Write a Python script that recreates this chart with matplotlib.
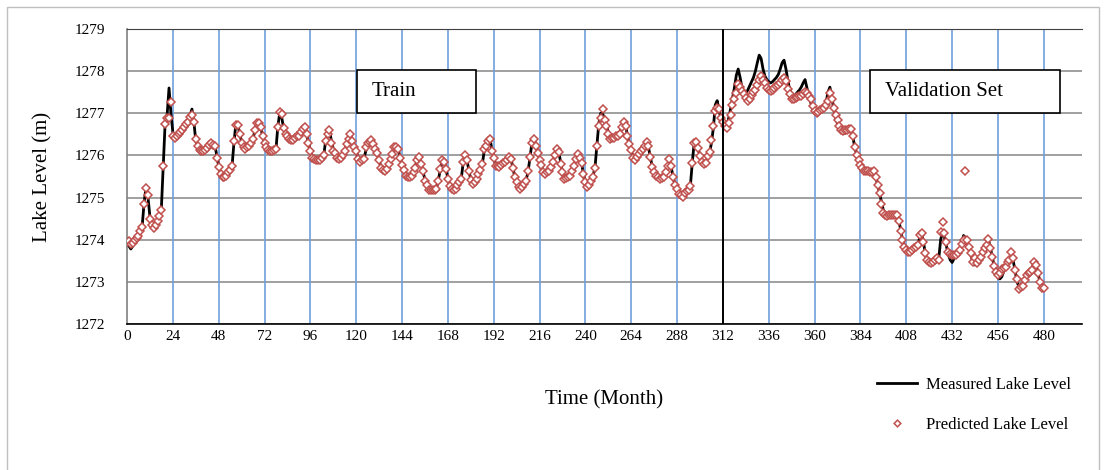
import matplotlib
matplotlib.use("Agg")
import matplotlib.pyplot as plt
from matplotlib.patches import Rectangle
from matplotlib.lines import Line2D

# monthly lake level (m), month 0..480
months = list(range(0, 481))

measured = [
    1273.95, 1273.85, 1273.78, 1273.85, 1273.95, 1274.02, 1274.10, 1274.20, 1274.35, 1274.90, 1275.25, 1275.00,
    1274.55, 1274.35, 1274.22, 1274.30, 1274.45, 1274.58, 1274.75, 1275.80, 1276.80, 1276.95, 1277.60, 1277.00,
    1276.55, 1276.45, 1276.45, 1276.50, 1276.55, 1276.62, 1276.70, 1276.75, 1276.80, 1276.95, 1277.10, 1276.80,
    1276.35, 1276.20, 1276.12, 1276.10, 1276.10, 1276.12, 1276.15, 1276.22, 1276.30, 1276.28, 1276.25, 1276.00,
    1275.75, 1275.58, 1275.50, 1275.46, 1275.50, 1275.58, 1275.64, 1275.75, 1276.30, 1276.75, 1276.72, 1276.52,
    1276.32, 1276.22, 1276.15, 1276.18, 1276.22, 1276.30, 1276.40, 1276.60, 1276.80, 1276.78, 1276.65, 1276.47,
    1276.30, 1276.22, 1276.12, 1276.10, 1276.09, 1276.12, 1276.15, 1276.70, 1277.02, 1276.90, 1276.65, 1276.52,
    1276.45, 1276.40, 1276.37, 1276.38, 1276.42, 1276.45, 1276.48, 1276.55, 1276.60, 1276.67, 1276.50, 1276.30,
    1276.10, 1275.95, 1275.92, 1275.89, 1275.88, 1275.90, 1275.95, 1276.00, 1276.35, 1276.50, 1276.60, 1276.35,
    1276.15, 1276.05, 1275.97, 1275.93, 1275.95, 1276.02, 1276.12, 1276.27, 1276.40, 1276.50, 1276.35, 1276.20,
    1276.10, 1275.95, 1275.85, 1275.87, 1275.92, 1276.10, 1276.25, 1276.32, 1276.37, 1276.30, 1276.15, 1276.05,
    1275.88, 1275.72, 1275.64, 1275.62, 1275.68, 1275.82, 1275.95, 1276.05, 1276.18, 1276.20, 1276.15, 1275.95,
    1275.78, 1275.65, 1275.52, 1275.48, 1275.50, 1275.53, 1275.60, 1275.75, 1275.90, 1275.96, 1275.80, 1275.62,
    1275.42, 1275.30, 1275.20, 1275.17, 1275.16, 1275.18, 1275.22, 1275.42, 1275.65, 1275.85, 1275.88, 1275.68,
    1275.45, 1275.30, 1275.20, 1275.16, 1275.20, 1275.30, 1275.38, 1275.45, 1275.82, 1276.00, 1275.88, 1275.65,
    1275.42, 1275.33, 1275.38, 1275.45, 1275.55, 1275.65, 1275.78, 1276.10, 1276.28, 1276.38, 1276.42, 1276.15,
    1275.95, 1275.78, 1275.74, 1275.75, 1275.78, 1275.81, 1275.86, 1275.90, 1275.96, 1275.93, 1275.72, 1275.50,
    1275.35, 1275.25, 1275.20, 1275.25, 1275.33, 1275.42, 1275.62, 1275.95, 1276.30, 1276.40, 1276.25, 1276.08,
    1275.92, 1275.78, 1275.62, 1275.56, 1275.60, 1275.66, 1275.74, 1275.84, 1276.00, 1276.15, 1276.10, 1275.85,
    1275.60, 1275.46, 1275.46, 1275.49, 1275.53, 1275.63, 1275.75, 1275.90, 1276.04, 1275.98, 1275.82, 1275.55,
    1275.35, 1275.24, 1275.30, 1275.40, 1275.52, 1275.70, 1276.23, 1276.75, 1277.00, 1277.00, 1276.85, 1276.72,
    1276.55, 1276.42, 1276.41, 1276.42, 1276.45, 1276.50, 1276.55, 1276.68, 1276.80, 1276.72, 1276.48, 1276.27,
    1276.12, 1275.95, 1275.92, 1275.98, 1276.04, 1276.10, 1276.20, 1276.27, 1276.31, 1276.20, 1275.96, 1275.74,
    1275.60, 1275.52, 1275.48, 1275.44, 1275.45, 1275.50, 1275.62, 1275.78, 1275.88, 1275.70, 1275.48, 1275.28,
    1275.15, 1275.07, 1275.03, 1275.04, 1275.10, 1275.15, 1275.20, 1275.30, 1275.85, 1276.32, 1276.28, 1276.15,
    1276.00, 1275.87, 1275.82, 1275.83, 1275.95, 1276.05, 1276.30, 1276.65, 1277.20, 1277.30, 1277.05, 1276.88,
    1276.78, 1276.68, 1276.70, 1276.88, 1277.10, 1277.35, 1277.60, 1277.90, 1278.05, 1277.85, 1277.60, 1277.50,
    1277.48, 1277.55, 1277.65, 1277.75, 1277.85, 1278.00, 1278.20, 1278.38, 1278.30, 1278.05, 1277.88, 1277.80,
    1277.75, 1277.72, 1277.75, 1277.80, 1277.85, 1277.92, 1278.05, 1278.20, 1278.26, 1278.05, 1277.78, 1277.55,
    1277.45, 1277.42, 1277.44, 1277.50, 1277.55, 1277.62, 1277.72, 1277.80, 1277.60, 1277.40, 1277.25, 1277.10,
    1277.02, 1276.98, 1277.00, 1277.05, 1277.10, 1277.15, 1277.25, 1277.50, 1277.62, 1277.40, 1277.10, 1276.90,
    1276.75, 1276.62, 1276.55, 1276.52, 1276.53, 1276.58, 1276.60, 1276.60, 1276.45, 1276.20, 1276.02, 1275.85,
    1275.75, 1275.68, 1275.64, 1275.62, 1275.60, 1275.60, 1275.60, 1275.60, 1275.50, 1275.30, 1275.10, 1274.90,
    1274.70, 1274.58, 1274.55, 1274.56, 1274.57, 1274.58, 1274.58, 1274.58, 1274.48, 1274.25, 1274.00, 1273.85,
    1273.78, 1273.72, 1273.72, 1273.76, 1273.80, 1273.83, 1273.87, 1274.05, 1274.15, 1273.95, 1273.65, 1273.50,
    1273.45, 1273.42, 1273.42, 1273.45, 1273.50, 1273.55, 1274.00, 1274.20, 1274.05, 1273.85, 1273.65, 1273.52,
    1273.46, 1273.55, 1273.60, 1273.65, 1273.75, 1273.90, 1274.10, 1274.05, 1273.90, 1273.75, 1273.60, 1273.45,
    1273.40, 1273.45, 1273.55, 1273.62, 1273.72, 1273.82, 1273.90, 1274.00, 1273.82, 1273.60, 1273.38, 1273.20,
    1273.10, 1273.07, 1273.12, 1273.25, 1273.35, 1273.45, 1273.50, 1273.55, 1273.50, 1273.25, 1273.00, 1272.88,
    1272.87, 1272.90, 1273.00, 1273.10, 1273.20, 1273.27, 1273.35, 1273.45, 1273.38, 1273.20, 1273.00, 1272.88,
    1272.82,
]

predicted = [
    1273.95, 1273.97, 1273.90, 1273.93, 1274.00, 1274.05, 1274.10, 1274.20, 1274.30, 1274.85, 1275.22, 1275.07,
    1274.50, 1274.35, 1274.27, 1274.35, 1274.45, 1274.57, 1274.70, 1275.76, 1276.75, 1276.90, 1276.88, 1277.26,
    1276.45, 1276.42, 1276.45, 1276.50, 1276.55, 1276.60, 1276.68, 1276.75, 1276.80, 1276.92, 1276.95, 1276.80,
    1276.38, 1276.22, 1276.12, 1276.10, 1276.10, 1276.13, 1276.17, 1276.25, 1276.30, 1276.25, 1276.22, 1275.95,
    1275.72, 1275.56, 1275.50, 1275.48, 1275.52, 1275.60, 1275.66, 1275.76, 1276.35, 1276.72, 1276.72, 1276.50,
    1276.30, 1276.20, 1276.15, 1276.20, 1276.23, 1276.30, 1276.40, 1276.60, 1276.78, 1276.78, 1276.67, 1276.47,
    1276.30, 1276.20, 1276.12, 1276.10, 1276.10, 1276.12, 1276.15, 1276.67, 1277.02, 1276.98, 1276.65, 1276.50,
    1276.45, 1276.40, 1276.37, 1276.37, 1276.42, 1276.45, 1276.47, 1276.55, 1276.62, 1276.67, 1276.50, 1276.30,
    1276.10, 1275.95, 1275.92, 1275.90, 1275.88, 1275.90, 1275.95, 1276.00, 1276.35, 1276.50, 1276.60, 1276.30,
    1276.10, 1276.05, 1275.95, 1275.92, 1275.95, 1276.00, 1276.10, 1276.27, 1276.40, 1276.50, 1276.35, 1276.20,
    1276.10, 1275.92, 1275.84, 1275.88, 1275.92, 1276.20, 1276.30, 1276.32, 1276.37, 1276.27, 1276.15, 1276.05,
    1275.88, 1275.70, 1275.65, 1275.62, 1275.68, 1275.80, 1275.92, 1276.04, 1276.20, 1276.20, 1276.15, 1275.95,
    1275.78, 1275.66, 1275.52, 1275.48, 1275.50, 1275.52, 1275.60, 1275.70, 1275.88, 1275.96, 1275.80, 1275.62,
    1275.40, 1275.30, 1275.18, 1275.17, 1275.17, 1275.18, 1275.20, 1275.40, 1275.68, 1275.88, 1275.85, 1275.68,
    1275.44, 1275.28, 1275.20, 1275.17, 1275.20, 1275.30, 1275.38, 1275.44, 1275.84, 1276.00, 1275.88, 1275.64,
    1275.42, 1275.32, 1275.38, 1275.44, 1275.56, 1275.65, 1275.80, 1276.15, 1276.23, 1276.35, 1276.40, 1276.10,
    1275.95, 1275.76, 1275.74, 1275.72, 1275.78, 1275.81, 1275.85, 1275.90, 1275.96, 1275.92, 1275.70, 1275.50,
    1275.38, 1275.26, 1275.20, 1275.26, 1275.33, 1275.40, 1275.64, 1275.96, 1276.30, 1276.40, 1276.23, 1276.06,
    1275.90, 1275.78, 1275.60, 1275.56, 1275.60, 1275.64, 1275.72, 1275.84, 1276.00, 1276.15, 1276.08, 1275.80,
    1275.60, 1275.44, 1275.46, 1275.48, 1275.52, 1275.64, 1275.76, 1275.92, 1276.04, 1275.95, 1275.82, 1275.55,
    1275.38, 1275.24, 1275.30, 1275.40, 1275.50, 1275.70, 1276.23, 1276.70, 1276.90, 1277.10, 1276.83, 1276.70,
    1276.52, 1276.40, 1276.42, 1276.42, 1276.45, 1276.47, 1276.50, 1276.67, 1276.79, 1276.70, 1276.47, 1276.27,
    1276.12, 1275.95, 1275.88, 1275.96, 1276.04, 1276.10, 1276.15, 1276.22, 1276.31, 1276.23, 1275.96, 1275.72,
    1275.60, 1275.52, 1275.48, 1275.44, 1275.46, 1275.48, 1275.60, 1275.76, 1275.92, 1275.75, 1275.50, 1275.30,
    1275.20, 1275.08, 1275.05, 1275.02, 1275.10, 1275.15, 1275.17, 1275.28, 1275.82, 1276.30, 1276.33, 1276.17,
    1275.98, 1275.85, 1275.80, 1275.82, 1275.98, 1276.07, 1276.37, 1276.69, 1277.05, 1277.13, 1277.10, 1276.90,
    1276.80, 1276.69, 1276.65, 1276.77, 1276.95, 1277.20, 1277.35, 1277.48, 1277.70, 1277.62, 1277.52, 1277.45,
    1277.37, 1277.30, 1277.35, 1277.44, 1277.50, 1277.56, 1277.66, 1277.80, 1277.88, 1277.80, 1277.72, 1277.60,
    1277.55, 1277.52, 1277.55, 1277.60, 1277.65, 1277.68, 1277.72, 1277.80, 1277.84, 1277.76, 1277.58, 1277.45,
    1277.33, 1277.35, 1277.37, 1277.38, 1277.40, 1277.42, 1277.45, 1277.50, 1277.48, 1277.42, 1277.33, 1277.18,
    1277.05, 1277.00, 1277.02, 1277.08, 1277.10, 1277.13, 1277.20, 1277.30, 1277.48, 1277.35, 1277.13, 1276.97,
    1276.85, 1276.69, 1276.61, 1276.58, 1276.60, 1276.61, 1276.62, 1276.63, 1276.45, 1276.20, 1276.02, 1275.88,
    1275.78, 1275.70, 1275.64, 1275.63, 1275.62, 1275.60, 1275.61, 1275.62, 1275.48, 1275.30, 1275.10, 1274.85,
    1274.63, 1274.58, 1274.56, 1274.58, 1274.58, 1274.58, 1274.58, 1274.58, 1274.45, 1274.21, 1273.99, 1273.83,
    1273.76, 1273.72, 1273.70, 1273.76, 1273.80, 1273.82, 1273.87, 1274.11, 1274.17, 1273.95, 1273.68, 1273.52,
    1273.46, 1273.44, 1273.48, 1273.52, 1273.56, 1273.52, 1274.19, 1274.43, 1274.15, 1273.95, 1273.72, 1273.66,
    1273.64, 1273.64, 1273.64, 1273.68, 1273.76, 1273.91, 1274.00, 1275.62, 1273.99, 1273.83, 1273.68, 1273.48,
    1273.56, 1273.44, 1273.52, 1273.60, 1273.72, 1273.80, 1273.88, 1274.02, 1273.80, 1273.60, 1273.38, 1273.24,
    1273.16, 1273.20, 1273.30, 1273.32, 1273.36, 1273.48, 1273.52, 1273.72, 1273.56, 1273.28, 1273.06, 1272.84,
    1272.88, 1272.90, 1273.04, 1273.16, 1273.20, 1273.24, 1273.28, 1273.48, 1273.40, 1273.20, 1273.00, 1272.86,
    1272.85,
]

x_ticks = list(range(0, 481, 24))
y_ticks = list(range(1272, 1280))
split_month = 312

plt.rcParams['font.family'] = ['Liberation Serif', 'DejaVu Serif']

fig = plt.figure(figsize=(11.07, 4.70), dpi=100)
ax = fig.add_axes([127 / 1107, 1 - 324 / 470, 955 / 1107, 295 / 470])

# outer frame of the figure
fig.patches.append(Rectangle((7 / 1107, -0.1), 1092 / 1107, 1.1 - 7 / 470,
                             transform=fig.transFigure, fill=False,
                             edgecolor='#bfbfbf', linewidth=1))

ax.plot(months, measured, color='black', linewidth=2.0, zorder=3)
ax.plot(months, predicted, linestyle='none', marker='D', markersize=4.2,
        markerfacecolor='white', markeredgecolor='#c0504d', markeredgewidth=1.1, zorder=4)

ax.axvline(split_month, color='black', linewidth=1.4, zorder=5)

ax.set_xlim(0, 500)
ax.set_ylim(1272, 1279)
ax.set_xticks(x_ticks)
ax.set_yticks(y_ticks)
ax.tick_params(axis='both', length=0, labelsize=11)
ax.tick_params(axis='y', pad=16)
ax.tick_params(axis='x', pad=4)

for yv in y_ticks:
    ax.axhline(yv, color='#a0a0a0', linewidth=1.4, zorder=1)
for xv in x_ticks[1:]:
    ax.axvline(xv, color='#6f9fdc', linewidth=1.2, zorder=1)

ax.spines['right'].set_visible(False)
ax.spines['top'].set_color('#404040')
ax.spines['left'].set_color('#808080')
ax.spines['bottom'].set_color('black')
ax.spines['left'].set_linewidth(1.2)
ax.spines['bottom'].set_linewidth(1.2)

ax.set_ylabel('Lake Level (m)', fontsize=15, labelpad=16)
ax.set_xlabel('Time (Month)', fontsize=15, labelpad=34)

# Train / Validation boxes
ax.add_patch(Rectangle((120.5, 1277.0), 62, 1.03, facecolor='white',
                       edgecolor='black', linewidth=1.2, zorder=6))
ax.text(128, 1277.52, 'Train', fontsize=15, va='center', ha='left', zorder=7)
ax.add_patch(Rectangle((389, 1277.0), 99.5, 1.03, facecolor='white',
                       edgecolor='black', linewidth=1.2, zorder=6))
ax.text(397, 1277.52, 'Validation Set', fontsize=15, va='center', ha='left', zorder=7)

handles = [
    Line2D([], [], color='black', linewidth=2.0),
    Line2D([], [], linestyle='none', marker='D', markersize=3.4,
           markerfacecolor='white', markeredgecolor='#c0504d', markeredgewidth=1.1),
]
fig.legend(handles, ['Measured Lake Level', 'Predicted Lake Level'],
           loc='upper left', bbox_to_anchor=(870 / 1107, 1 - 370 / 470),
           frameon=False, fontsize=12, handlelength=2.4, handletextpad=0.55,
           labelspacing=1.45, borderaxespad=0)

fig.savefig('out.png', dpi=100)
